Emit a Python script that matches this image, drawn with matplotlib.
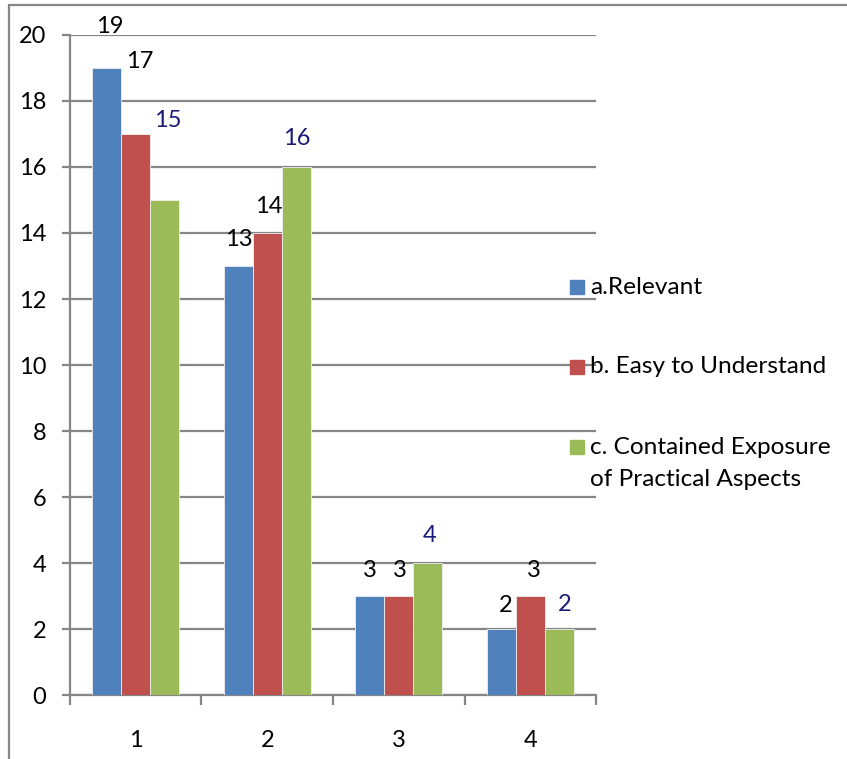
import numpy as np
import matplotlib.pyplot as plt
from matplotlib.patches import Rectangle

plt.rcParams['font.family'] = ['Lato', 'DejaVu Sans']

categories = ['1', '2', '3', '4']
series_names = ['a.Relevant', 'b. Easy to Understand',
                'c. Contained Exposure\nof Practical Aspects']
relevant = [19, 13, 3, 2]
easy = [17, 14, 3, 3]
practical = [15, 16, 4, 2]

colors = ['#4F81BD', '#C0504D', '#9BBB59']
label_colors = ['black', 'black', '#1C1C78']
# label offsets in pixels from the top centre of each bar (moved by hand in the original)
label_offsets = [
    [(3, 41), (1, 26), (0, 26), (4, 24)],
    [(4, 72), (1, 26), (1, 26), (4, 26)],
    [(3, 79), (1, 28), (2, 28), (5, 25)],
]

W, H = 847, 759
fig = plt.figure(figsize=(W / 100, H / 100), dpi=100)
ax = fig.add_axes([0.0826, 0.0843, 0.6211, 0.8696])

x = np.arange(len(categories))
w = 0.22
for i, vals in enumerate([relevant, easy, practical]):
    bars = ax.bar(x + (i - 1) * w, vals, w, color=colors[i], edgecolor='#f0f0f0',
                  linewidth=0.6, zorder=3)
    for j, b in enumerate(bars):
        dx, dy = label_offsets[i][j]
        ax.annotate(str(vals[j]), (b.get_x() + b.get_width() / 2, b.get_height()),
                    xytext=(dx, dy), textcoords='offset pixels', ha='center', va='center',
                    fontsize=17, color=label_colors[i], zorder=4, annotation_clip=False)

ax.set_xlim(-0.5, 3.5)
ax.set_ylim(0, 20)
ax.set_yticks(range(0, 21, 2))
ax.yaxis.grid(True, color='#868686', linewidth=1.6, zorder=0)
ax.set_axisbelow(True)
for s in ['top', 'right']:
    ax.spines[s].set_visible(False)
for s in ['left', 'bottom']:
    ax.spines[s].set_color('#868686')
    ax.spines[s].set_linewidth(1.6)

ax.set_xticks(x)
ax.set_xticklabels(categories)
ax.set_xticks(np.arange(-0.5, 4, 1), minor=True)
ax.tick_params(axis='x', which='major', length=0, pad=25, labelsize=17)
ax.tick_params(axis='x', which='minor', length=7, width=1.6, color='#868686')
ax.tick_params(axis='y', length=6, width=1.6, color='#868686', pad=11, labelsize=17)

# legend drawn by hand so the wrapped label keeps its marker on the first line
leg_rows = [287, 367, 447]
for name, c, py in zip(series_names, colors, leg_rows):
    fig.patches.append(Rectangle((570 / W, 1 - (py + 7) / H), 14 / W, 14 / H,
                                 transform=fig.transFigure, color=c, zorder=5))
    for k, line in enumerate(name.split('\n')):
        fig.text(590 / W, 1 - (py + 33 * k) / H, line, fontsize=17.6,
                 ha='left', va='center', zorder=5)

# outer frame (only top and left edges are visible in the original)
fig.patches.append(Rectangle((0.0106, -0.1), 1.1, 1.0934, transform=fig.transFigure,
                             fill=False, edgecolor='#868686', linewidth=1.6))

fig.savefig('out.png', dpi=100)
